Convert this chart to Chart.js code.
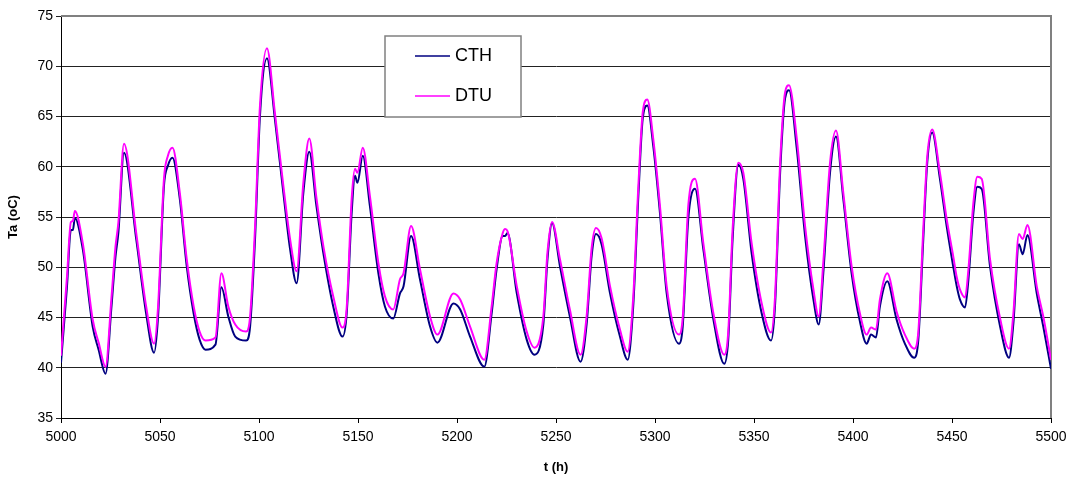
<!DOCTYPE html>
<html>
<head>
<meta charset="utf-8">
<script src="https://cdn.jsdelivr.net/npm/chart.js@4"></script>
<style>
  html, body { margin: 0; padding: 0; background: #fff; }
  #wrap { width: 1073px; height: 481px; }
</style>
</head>
<body>
<div id="wrap"><canvas id="taChart" width="1073" height="481"></canvas></div>
<script>
// hours (peaks, troughs, shoulders)
const hours = [5000, 5003, 5005, 5006, 5007, 5011, 5016, 5019, 5022.5, 5025.5, 5027.5, 5029, 5031.8, 5038, 5043, 5047, 5049, 5052, 5054, 5056.3,
  5060, 5063.5, 5067, 5070, 5073, 5078, 5081, 5084.5, 5088, 5093.5, 5095.5, 5098, 5100.5, 5104, 5108, 5112.3, 5115.7, 5119, 5122.4, 5125.4,
  5129, 5132.5, 5137.5, 5142.2, 5144.3, 5146.8, 5148.5, 5149.7, 5152.4, 5156, 5160.3, 5163.6, 5167.8, 5171.2, 5173, 5176.8, 5181.3, 5186.4, 5190.1, 5198.2,
  5201.6, 5206.6, 5213.8, 5217.5, 5220, 5223.1, 5224.3, 5225.5, 5230.2, 5235.2, 5239.1, 5243.6, 5245.7, 5248, 5252, 5257, 5262.4, 5265.5, 5268, 5270.2,
  5273, 5277.3, 5282.3, 5286.2, 5289, 5291.6, 5293.8, 5296.1, 5299.1, 5302.5, 5305.9, 5312.1, 5314, 5316.8, 5320.2, 5324.4, 5329.5, 5335, 5337, 5339.2,
  5342.1, 5344.6, 5348.8, 5353.9, 5358.6, 5360.6, 5363.2, 5365.7, 5367.7, 5371.6, 5375.8, 5380, 5382.7, 5385, 5388.4, 5391.4, 5395.1, 5399.3, 5403.5, 5406.9,
  5409.1, 5411.6, 5413.6, 5417.3, 5422, 5426.2, 5430.9, 5433, 5435.5, 5437.5, 5440, 5443.9, 5447.3, 5450.6, 5452.4, 5454, 5456.6, 5458.3, 5460.8, 5462.8,
  5465, 5469.2, 5474.3, 5478.8, 5481, 5483.8, 5485.7, 5488.1, 5492.8, 5496.1, 5500];

const cthTemp = [40.5, 48.0, 53.7, 53.7, 54.9, 51.8, 44.1, 41.8, 39.4, 46.1, 51.0, 53.5, 61.4, 52.8, 45.4, 41.5, 45.0, 58.1, 60.1, 60.9,
  56.8, 50.1, 45.4, 42.8, 41.8, 42.3, 48.0, 45.1, 43.1, 42.7, 44.1, 52.8, 65.1, 70.8, 64.8, 57.4, 51.8, 48.4, 57.4, 61.5,
  56.1, 51.4, 46.1, 43.1, 45.4, 55.4, 59.1, 58.4, 61.1, 56.1, 49.4, 46.1, 44.9, 47.4, 48.1, 53.1, 48.8, 44.1, 42.5, 46.4,
  45.8, 43.1, 40.1, 45.4, 49.8, 53.1, 53.1, 53.4, 47.4, 42.8, 41.3, 44.3, 50.8, 54.4, 50.1, 45.1, 40.6, 44.4, 51.1, 53.3,
  52.3, 47.4, 43.1, 40.8, 46.1, 57.1, 64.8, 66.1, 62.1, 55.4, 47.4, 42.4, 44.1, 54.8, 57.8, 51.8, 44.8, 40.4, 42.8, 52.8,
  60.2, 58.8, 51.4, 45.4, 42.7, 46.1, 59.4, 66.8, 67.6, 61.8, 53.1, 46.8, 44.3, 49.4, 59.4, 63.0, 56.8, 49.4, 44.6, 42.4,
  43.3, 43.0, 46.1, 48.6, 44.8, 42.4, 41.0, 42.8, 52.8, 60.4, 63.4, 58.8, 54.1, 50.1, 48.1, 46.8, 46.0, 48.8, 55.4, 58.0,
  57.8, 50.1, 44.1, 41.0, 44.4, 52.3, 51.3, 53.2, 47.4, 44.1, 39.9];

const dtuTemp = [41.2, 49.0, 54.5, 54.6, 55.6, 52.4, 44.8, 42.5, 40.1, 47.0, 52.0, 54.5, 62.3, 53.4, 46.1, 42.4, 46.0, 58.8, 61.1, 61.9,
  57.4, 50.8, 46.1, 43.6, 42.7, 43.0, 49.4, 46.1, 44.3, 43.6, 45.1, 54.0, 66.1, 71.8, 65.4, 58.1, 52.8, 49.6, 58.4, 62.8,
  56.9, 52.1, 47.1, 44.0, 46.0, 56.8, 59.8, 59.4, 61.9, 57.1, 50.4, 47.1, 45.8, 48.8, 49.4, 54.1, 49.8, 45.1, 43.3, 47.4,
  46.8, 44.1, 40.8, 46.1, 50.4, 53.4, 53.8, 53.6, 48.1, 43.6, 42.0, 45.1, 51.5, 54.5, 50.8, 45.8, 41.3, 45.2, 51.9, 53.9,
  52.9, 48.1, 43.8, 41.6, 47.0, 58.1, 65.4, 66.7, 62.8, 56.1, 48.1, 43.3, 45.0, 56.1, 58.8, 52.4, 45.4, 41.3, 43.6, 53.8,
  60.4, 59.4, 52.4, 46.4, 43.5, 47.0, 60.4, 67.4, 68.1, 62.8, 54.1, 47.8, 45.1, 50.5, 60.4, 63.6, 57.4, 50.1, 45.4, 43.3,
  44.0, 43.8, 46.8, 49.4, 45.6, 43.3, 41.9, 43.6, 53.8, 61.0, 63.7, 59.4, 54.8, 51.1, 49.0, 47.8, 47.0, 49.8, 56.4, 59.0,
  58.8, 50.8, 44.9, 41.9, 45.4, 53.3, 52.8, 54.2, 48.1, 45.1, 40.8];

const seriesNames = ['CTH', 'DTU'];
const seriesColors = ['#000080', '#ff00ff'];

const FONT = 'Arial, "Liberation Sans", sans-serif';

// gray frame on top and right of the plot area
const framePlugin = {
  id: 'frame',
  beforeDatasetsDraw(chart) {
    const a = chart.chartArea, ctx = chart.ctx;
    ctx.save();
    ctx.strokeStyle = '#808080';
    ctx.lineWidth = 2;
    ctx.beginPath();
    ctx.moveTo(a.left, a.top);
    ctx.lineTo(a.right, a.top);
    ctx.lineTo(a.right, a.bottom);
    ctx.stroke();
    ctx.restore();
  }
};

// boxed legend inside the plot, like the original
const boxLegend = {
  id: 'boxLegend',
  afterDraw(chart) {
    const ctx = chart.ctx;
    const x = 385, y = 36, w = 136, h = 81;
    ctx.save();
    ctx.fillStyle = '#fff';
    ctx.fillRect(x, y, w, h);
    ctx.strokeStyle = '#808080';
    ctx.lineWidth = 1.5;
    ctx.strokeRect(x, y, w, h);
    ctx.font = '18px ' + FONT;
    ctx.textBaseline = 'middle';
    seriesNames.forEach((name, i) => {
      const ly = y + 20 + i * 40;
      ctx.strokeStyle = seriesColors[i];
      ctx.lineWidth = 1.5;
      ctx.beginPath();
      ctx.moveTo(x + 30, ly);
      ctx.lineTo(x + 65, ly);
      ctx.stroke();
      ctx.fillStyle = '#000';
      ctx.fillText(name, x + 70, ly);
    });
    ctx.restore();
  }
};

new Chart(document.getElementById('taChart').getContext('2d'), {
  type: 'line',
  data: {
    datasets: [{
      label: seriesNames[0],
      data: hours.map((h, i) => ({ x: h, y: cthTemp[i] })),
      borderColor: seriesColors[0],
      borderWidth: 2,
      pointRadius: 0,
      cubicInterpolationMode: 'monotone',
      fill: false,
      order: 1
    }, {
      label: seriesNames[1],
      data: hours.map((h, i) => ({ x: h, y: dtuTemp[i] })),
      borderColor: seriesColors[1],
      borderWidth: 2,
      pointRadius: 0,
      cubicInterpolationMode: 'monotone',
      fill: false,
      order: 0
    }]
  },
  options: {
    responsive: false,
    animation: false,
    layout: { padding: { left: 0, right: 22, top: 16, bottom: 0 } },
    plugins: {
      legend: { display: false },
      tooltip: { enabled: false }
    },
    scales: {
      x: {
        type: 'linear',
        min: 5000,
        max: 5500,
        afterFit: s => { s.height = 63; },
        ticks: { stepSize: 50, color: '#000', font: { family: FONT, size: 14 }, padding: 6, maxRotation: 0,
                 callback: v => String(v) },
        grid: { drawOnChartArea: false, drawTicks: true, tickLength: 5, color: '#000' },
        border: { color: '#000', width: 1 },
        title: { display: true, text: 't (h)', color: '#000', font: { family: FONT, size: 13, weight: 'bold' }, padding: { top: 4, bottom: 6 } }
      },
      y: {
        min: 35,
        max: 75,
        afterFit: s => { s.width = 61; },
        ticks: { stepSize: 5, color: '#000', font: { family: FONT, size: 14 }, padding: 3 },
        grid: { color: '#222', lineWidth: 1, tickLength: 5 },
        border: { color: '#000', width: 1 },
        title: { display: true, text: 'Ta (oC)', color: '#000', font: { family: FONT, size: 13, weight: 'bold' }, padding: { top: 6, bottom: 0 } }
      }
    }
  },
  plugins: [framePlugin, boxLegend]
});
</script>
</body>
</html>
